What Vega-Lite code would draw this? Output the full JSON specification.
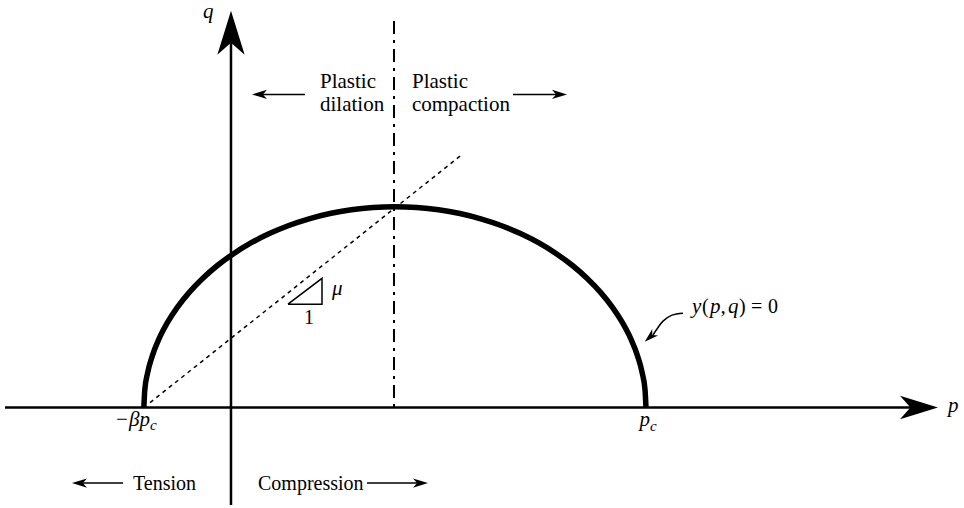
{
  "$schema": "https://vega.github.io/schema/vega-lite/v6.json",
  "width": 964,
  "height": 508,
  "autosize": {"type": "fit", "contains": "padding"},
  "padding": 0,
  "background": "white",
  "config": {"view": {"stroke": null}, "text": {"font": "Liberation Serif", "color": "black"}},
  "datasets": {
    "axes": [
      {"p": -0.5446, "q": 0, "p2": 1.648, "q2": 0},
      {"p": 0, "q": -0.236, "p2": 0, "q2": 0.884}
    ],
    "shafts": [
      {"p": 0.0602, "q": 0.759, "p2": 0.1783, "q2": 0.759},
      {"p": 0.6795, "q": 0.759, "p2": 0.8, "q2": 0.759},
      {"p": -0.3735, "q": -0.1831, "p2": -0.2602, "q2": -0.1831},
      {"p": 0.3277, "q": -0.1831, "p2": 0.4651, "q2": -0.1831}
    ],
    "dashdot": [{"p": 0.3928, "q": 0.9373, "p2": 0.3928, "q2": 0}],
    "dashed": [{"p": -0.195, "q": 0.012, "p2": 0.5518, "q2": 0.6094}],
    "ellipse": [
      {"p": 1.0, "q": 0}, {"p": 0.9977, "q": 0.0425}, {"p": 0.9908, "q": 0.0845}, {"p": 0.9794, "q": 0.126},
      {"p": 0.9635, "q": 0.1666}, {"p": 0.9433, "q": 0.2058}, {"p": 0.9189, "q": 0.2435}, {"p": 0.8906, "q": 0.2793},
      {"p": 0.8584, "q": 0.313}, {"p": 0.8228, "q": 0.3444}, {"p": 0.7839, "q": 0.373}, {"p": 0.742, "q": 0.399},
      {"p": 0.6975, "q": 0.4217}, {"p": 0.6507, "q": 0.4414}, {"p": 0.6019, "q": 0.4576}, {"p": 0.5516, "q": 0.4704},
      {"p": 0.5, "q": 0.4796}, {"p": 0.4478, "q": 0.4851}, {"p": 0.395, "q": 0.487},
      {"p": 0.3422, "q": 0.4851}, {"p": 0.29, "q": 0.4796}, {"p": 0.2384, "q": 0.4704}, {"p": 0.1881, "q": 0.4576},
      {"p": 0.1393, "q": 0.4414}, {"p": 0.0925, "q": 0.4217}, {"p": 0.048, "q": 0.399}, {"p": 0.0061, "q": 0.373},
      {"p": -0.0328, "q": 0.3444}, {"p": -0.0684, "q": 0.313}, {"p": -0.1006, "q": 0.2793}, {"p": -0.1289, "q": 0.2435},
      {"p": -0.1533, "q": 0.2058}, {"p": -0.1735, "q": 0.1666}, {"p": -0.1894, "q": 0.126}, {"p": -0.2008, "q": 0.0845},
      {"p": -0.2077, "q": 0.0425}, {"p": -0.21, "q": 0}
    ],
    "triangle": [
      {"i": 0, "p": 0.1373, "q": 0.2506},
      {"i": 1, "p": 0.2193, "q": 0.2506},
      {"i": 2, "p": 0.2193, "q": 0.3133},
      {"i": 3, "p": 0.1373, "q": 0.2506}
    ],
    "curve": [
      {"i": 0, "p": 1.0892, "q": 0.2289},
      {"i": 1, "p": 1.0627, "q": 0.2241},
      {"i": 2, "p": 1.041, "q": 0.2096},
      {"i": 3, "p": 1.0265, "q": 0.1904},
      {"i": 4, "p": 1.0169, "q": 0.1759}
    ],
    "heads": [
      {"p": 1.6578, "q": 0, "s": 1444, "a": 0},
      {"p": 0, "q": 0.9084, "s": 1936, "a": 270},
      {"p": 0.0687, "q": 0.759, "s": 225, "a": 180},
      {"p": 0.7916, "q": 0.759, "s": 225, "a": 0},
      {"p": -0.3651, "q": -0.1831, "s": 225, "a": 180},
      {"p": 0.4566, "q": -0.1831, "s": 225, "a": 0},
      {"p": 1.0096, "q": 0.1711, "s": 196, "a": 138}
    ],
    "regular": [
      {"p": 0.2145, "q": 0.7735, "t": "Plastic", "s": 21},
      {"p": 0.2145, "q": 0.7181, "t": "dilation", "s": 21},
      {"p": 0.4361, "q": 0.7735, "t": "Plastic", "s": 21},
      {"p": 0.4361, "q": 0.7181, "t": "compaction", "s": 21},
      {"p": -0.2361, "q": -0.2, "t": "Tension", "s": 20},
      {"p": 0.0651, "q": -0.2, "t": "Compression", "s": 20},
      {"p": 0.1759, "q": 0.2024, "t": "1", "s": 20},
      {"p": 1.1349, "q": 0.2289, "t": "(", "s": 20},
      {"p": 1.2241, "q": 0.2289, "t": ")", "s": 20},
      {"p": 1.253, "q": 0.2289, "t": "=", "s": 20},
      {"p": 1.294, "q": 0.2289, "t": "0", "s": 20}
    ],
    "italic": [
      {"p": -0.0675, "q": 0.9446, "t": "q"},
      {"p": 1.7277, "q": -0.0096, "t": "p"},
      {"p": 0.2434, "q": 0.2723, "t": "μ"},
      {"p": 1.1108, "q": 0.2289, "t": "y"},
      {"p": 1.1542, "q": 0.2289, "t": "p,"},
      {"p": 1.1976, "q": 0.2289, "t": "q"}
    ],
    "italicRight": [
      {"p": -0.1952, "q": -0.0458, "t": "−βp"},
      {"p": 1.0096, "q": -0.0458, "t": "p"}
    ],
    "subs": [
      {"p": -0.1952, "q": -0.0554, "t": "c"},
      {"p": 1.0096, "q": -0.0578, "t": "c"}
    ]
  },
  "layer": [
    {
      "data": {"name": "axes"},
      "mark": {"type": "rule", "color": "black", "strokeWidth": 2.5},
      "encoding": {
        "x": {"field": "p", "type": "quantitative", "scale": {"domain": [-0.5566, 1.7663], "nice": false, "zero": false}, "axis": null},
        "y": {"field": "q", "type": "quantitative", "scale": {"domain": [-0.2434, 0.9807], "nice": false, "zero": false}, "axis": null},
        "x2": {"field": "p2"},
        "y2": {"field": "q2"}
      }
    },
    {
      "data": {"name": "shafts"},
      "mark": {"type": "rule", "color": "black", "strokeWidth": 1.5},
      "encoding": {
        "x": {"field": "p", "type": "quantitative", "axis": null},
        "y": {"field": "q", "type": "quantitative", "axis": null},
        "x2": {"field": "p2"},
        "y2": {"field": "q2"}
      }
    },
    {
      "data": {"name": "dashdot"},
      "mark": {"type": "rule", "color": "black", "strokeWidth": 2, "strokeDash": [13, 6, 3, 6]},
      "encoding": {
        "x": {"field": "p", "type": "quantitative", "axis": null},
        "y": {"field": "q", "type": "quantitative", "axis": null},
        "x2": {"field": "p2"},
        "y2": {"field": "q2"}
      }
    },
    {
      "data": {"name": "dashed"},
      "mark": {"type": "rule", "color": "black", "strokeWidth": 1.5, "strokeDash": [4, 4]},
      "encoding": {
        "x": {"field": "p", "type": "quantitative", "axis": null},
        "y": {"field": "q", "type": "quantitative", "axis": null},
        "x2": {"field": "p2"},
        "y2": {"field": "q2"}
      }
    },
    {
      "data": {"name": "ellipse"},
      "mark": {"type": "line", "color": "black", "strokeWidth": 5.5, "interpolate": "monotone"},
      "encoding": {
        "x": {"field": "p", "type": "quantitative", "axis": null},
        "y": {"field": "q", "type": "quantitative", "axis": null}
      }
    },
    {
      "data": {"name": "triangle"},
      "mark": {"type": "line", "color": "black", "strokeWidth": 1.5, "strokeJoin": "miter"},
      "encoding": {
        "x": {"field": "p", "type": "quantitative", "axis": null},
        "y": {"field": "q", "type": "quantitative", "axis": null},
        "order": {"field": "i"}
      }
    },
    {
      "data": {"name": "curve"},
      "mark": {"type": "line", "color": "black", "strokeWidth": 1.5, "interpolate": "cardinal"},
      "encoding": {
        "x": {"field": "p", "type": "quantitative", "axis": null},
        "y": {"field": "q", "type": "quantitative", "axis": null},
        "order": {"field": "i"}
      }
    },
    {
      "data": {"name": "heads"},
      "mark": {"type": "point", "shape": "M1,0L-1,-0.62L-0.45,0L-1,0.62Z", "filled": true, "color": "black", "opacity": 1, "strokeWidth": 0},
      "encoding": {
        "x": {"field": "p", "type": "quantitative", "axis": null},
        "y": {"field": "q", "type": "quantitative", "axis": null},
        "size": {"field": "s", "type": "quantitative", "scale": null, "legend": null},
        "angle": {"field": "a", "type": "quantitative", "scale": null}
      }
    },
    {
      "data": {"name": "regular"},
      "mark": {"type": "text", "align": "left", "baseline": "alphabetic", "font": "Liberation Serif", "color": "black"},
      "encoding": {
        "x": {"field": "p", "type": "quantitative", "axis": null},
        "y": {"field": "q", "type": "quantitative", "axis": null},
        "text": {"field": "t"},
        "size": {"field": "s", "type": "quantitative", "scale": null, "legend": null}
      }
    },
    {
      "data": {"name": "italic"},
      "mark": {"type": "text", "align": "left", "baseline": "alphabetic", "font": "Liberation Serif", "fontStyle": "italic", "fontSize": 21, "color": "black"},
      "encoding": {
        "x": {"field": "p", "type": "quantitative", "axis": null},
        "y": {"field": "q", "type": "quantitative", "axis": null},
        "text": {"field": "t"}
      }
    },
    {
      "data": {"name": "italicRight"},
      "mark": {"type": "text", "align": "right", "baseline": "alphabetic", "font": "Liberation Serif", "fontStyle": "italic", "fontSize": 21, "color": "black"},
      "encoding": {
        "x": {"field": "p", "type": "quantitative", "axis": null},
        "y": {"field": "q", "type": "quantitative", "axis": null},
        "text": {"field": "t"}
      }
    },
    {
      "data": {"name": "subs"},
      "mark": {"type": "text", "align": "left", "baseline": "alphabetic", "font": "Liberation Serif", "fontStyle": "italic", "fontSize": 15, "color": "black"},
      "encoding": {
        "x": {"field": "p", "type": "quantitative", "axis": null},
        "y": {"field": "q", "type": "quantitative", "axis": null},
        "text": {"field": "t"}
      }
    }
  ]
}
